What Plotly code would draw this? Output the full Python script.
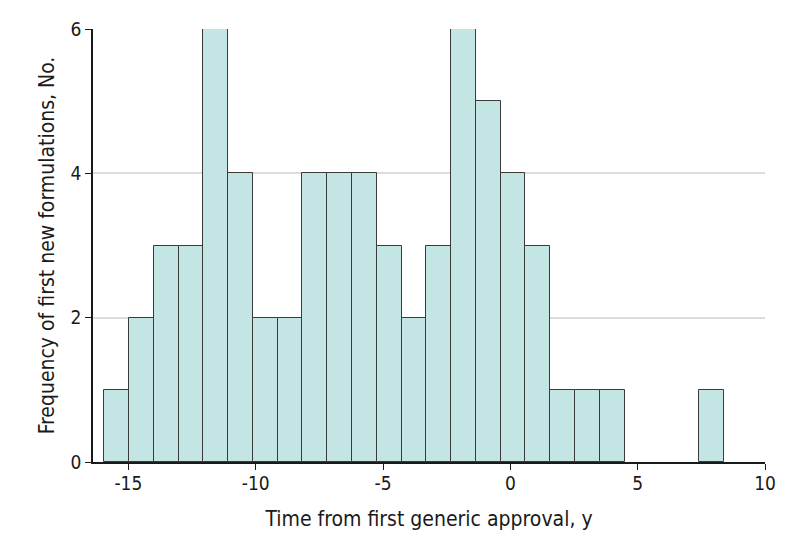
import plotly.graph_objects as go

# histogram: 25 equal bins
bin_start = -15.95
bin_width = 0.973
counts = [1, 2, 3, 3, 6, 4, 2, 2, 4, 4, 4, 3, 2, 3, 6, 5, 4, 3, 1, 1, 1, 0, 0, 0, 1]

x_ticks = [-15, -10, -5, 0, 5, 10]
y_ticks = [0, 2, 4, 6]

centers = [bin_start + bin_width * (i + 0.5) for i in range(len(counts))]
heights = [c if c > 0 else None for c in counts]  # empty bins draw nothing

FONT = "DejaVu Sans Condensed, Roboto Condensed, Roboto, sans-serif"
INK = "#1a1a1a"

fig = go.Figure(go.Bar(
    x=centers, y=heights, width=bin_width,
    marker=dict(color="#c3e6e4", line=dict(color="#3a3a3a", width=1)),
    hoverinfo="x+y",
))

# page body has an 8px margin, so the figure is a bit smaller than the window
fig.update_layout(
    width=778, height=530,
    margin=dict(l=85, r=21, t=21, b=76),
    plot_bgcolor="white", paper_bgcolor="white",
    font=dict(family=FONT, size=17.5, color=INK),
    showlegend=False,
    bargap=0,
)
fig.update_xaxes(
    range=[-16.39, 10], tickvals=x_ticks, ticktext=[str(v) for v in x_ticks],
    tickfont=dict(size=19), ticklabelstandoff=-3,
    showgrid=False, zeroline=False, automargin=False,
    showline=True, linecolor=INK, linewidth=1.5,
    ticks="outside", ticklen=6, tickcolor=INK,
    title=dict(text="Time from first generic approval, y", standoff=19),
)
fig.update_yaxes(
    range=[0, 6], tickvals=y_ticks, tickfont=dict(size=19),
    showgrid=True, gridcolor="#dcdcdc", gridwidth=2, zeroline=False, automargin=False,
    showline=True, linecolor=INK, linewidth=1.5,
    ticks="outside", ticklen=6, tickcolor=INK,
    title=dict(text="Frequency of first new formulations, No.", standoff=10),
)

fig.write_html("out.html")
